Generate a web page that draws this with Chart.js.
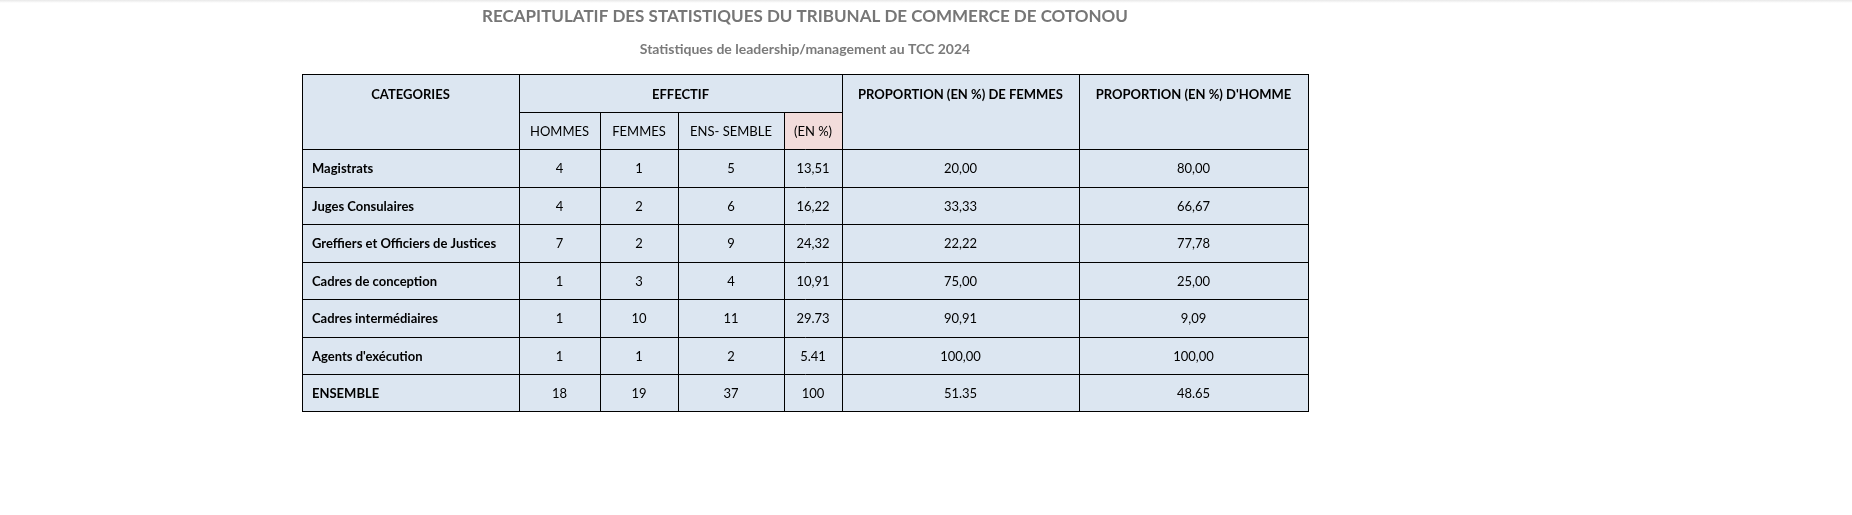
<!DOCTYPE html>
<html>
<head>
<meta charset="utf-8">
<script src="https://cdn.jsdelivr.net/npm/chart.js@4"></script>
<style>
html,body{margin:0;padding:0;background:#fff;overflow:hidden;}
#wrap{width:1852px;height:515px;position:relative;}
#shadow{position:absolute;left:0;top:0;width:1852px;height:3px;background:linear-gradient(#e8e8e8,#fff);}
#tableChart{position:absolute;left:0;top:0;}
</style>
</head>
<body>
<div id="wrap"><div id="shadow"></div><canvas id="tableChart" width="1852" height="515" style="width:1852px;height:515px"></canvas></div>
<script>
const title = 'RECAPITULATIF DES STATISTIQUES DU TRIBUNAL DE COMMERCE DE COTONOU';
const subtitle = 'Statistiques de leadership/management au TCC 2024';
const categories = ['Magistrats', 'Juges Consulaires', 'Greffiers et Officiers de Justices',
  'Cadres de conception', 'Cadres intermédiaires', "Agents d'exécution", 'ENSEMBLE'];
const hommes = ['4', '4', '7', '1', '1', '1', '18'];
const femmes = ['1', '2', '2', '3', '10', '1', '19'];
const ensemble = ['5', '6', '9', '4', '11', '2', '37'];
const enPct = ['13,51', '16,22', '24,32', '10,91', '29.73', '5.41', '100'];
const propFemmes = ['20,00', '33,33', '22,22', '75,00', '90,91', '100,00', '51.35'];
const propHommes = ['80,00', '66,67', '77,78', '25,00', '9,09', '100,00', '48.65'];

// column edges (pixels) and row edges
const colX = [302, 519, 600, 678, 784, 842, 1079, 1308];
const rowY = [74, 112, 149, 187, 224, 262, 299, 337, 374, 411];
const FONT = 'Lato, "Open Sans", sans-serif';

const tablePlugin = {
  id: 'tablePlugin',
  afterDraw(chart) {
    const c = chart.ctx;
    c.save();
    c.textAlign = 'center';
    c.textBaseline = 'middle';
    c.fillStyle = '#767676';
    c.font = 'bold 17px ' + FONT;
    c.fillText(title, 805, 17);
    c.font = 'bold 14px ' + FONT;
    c.fillStyle = '#7a7a7a';
    c.fillText(subtitle, 805, 49);

    // background
    c.fillStyle = '#dce6f1';
    c.fillRect(colX[0], rowY[0], colX[7] - colX[0], rowY[9] - rowY[0]);
    c.fillStyle = '#f2dcdb';
    c.fillRect(colX[4], rowY[1], colX[5] - colX[4], rowY[2] - rowY[1]);

    // grid lines
    c.strokeStyle = '#000';
    c.lineWidth = 1;
    const line = (x1, y1, x2, y2) => {
      c.beginPath(); c.moveTo(Math.round(x1) + 0.5, Math.round(y1) + 0.5);
      c.lineTo(Math.round(x2) + 0.5, Math.round(y2) + 0.5); c.stroke();
    };
    c.strokeRect(colX[0] + 0.5, rowY[0] + 0.5, colX[7] - colX[0], rowY[9] - rowY[0]);
    line(colX[1], rowY[1], colX[5], rowY[1]);
    for (let r = 2; r < 9; r++) line(colX[0], rowY[r], colX[7], rowY[r]);
    line(colX[1], rowY[0], colX[1], rowY[9]);
    line(colX[5], rowY[0], colX[5], rowY[9]);
    line(colX[6], rowY[0], colX[6], rowY[9]);
    for (let i = 2; i <= 4; i++) line(colX[i], rowY[1], colX[i], rowY[9]);

    // headers
    c.fillStyle = '#000';
    c.font = 'bold 13px ' + FONT;
    const hy = (rowY[0] + rowY[1]) / 2 + 2;
    c.fillText('CATEGORIES', (colX[0] + colX[1]) / 2, hy);
    c.fillText('EFFECTIF', (colX[1] + colX[5]) / 2, hy);
    c.fillText('PROPORTION (EN %) DE FEMMES', (colX[5] + colX[6]) / 2, hy);
    c.fillText("PROPORTION (EN %) D'HOMME", (colX[6] + colX[7]) / 2, hy);
    c.font = '13px ' + FONT;
    const sy = (rowY[1] + rowY[2]) / 2 + 1;
    ['HOMMES', 'FEMMES', 'ENS- SEMBLE', '(EN %)'].forEach((t, i) =>
      c.fillText(t, (colX[i + 1] + colX[i + 2]) / 2, sy));

    // body
    const cols = [hommes, femmes, ensemble, enPct, propFemmes, propHommes];
    categories.forEach((cat, r) => {
      const y = (rowY[r + 2] + rowY[r + 3]) / 2 + 1;
      c.textAlign = 'left';
      c.font = 'bold 13px ' + FONT;
      c.fillText(cat, colX[0] + 10, y);
      c.textAlign = 'center';
      c.font = '13px ' + FONT;
      cols.forEach((arr, i) => c.fillText(arr[r], (colX[i + 1] + colX[i + 2]) / 2, y));
    });
    c.restore();
  }
};

new Chart(document.getElementById('tableChart'), {
  type: 'scatter',
  data: { datasets: [{ data: [] }] },
  options: {
    responsive: false,
    animation: false,
    devicePixelRatio: 1,
    plugins: { legend: { display: false }, tooltip: { enabled: false } },
    scales: { x: { display: false }, y: { display: false } }
  },
  plugins: [tablePlugin]
});
</script>
</body>
</html>
